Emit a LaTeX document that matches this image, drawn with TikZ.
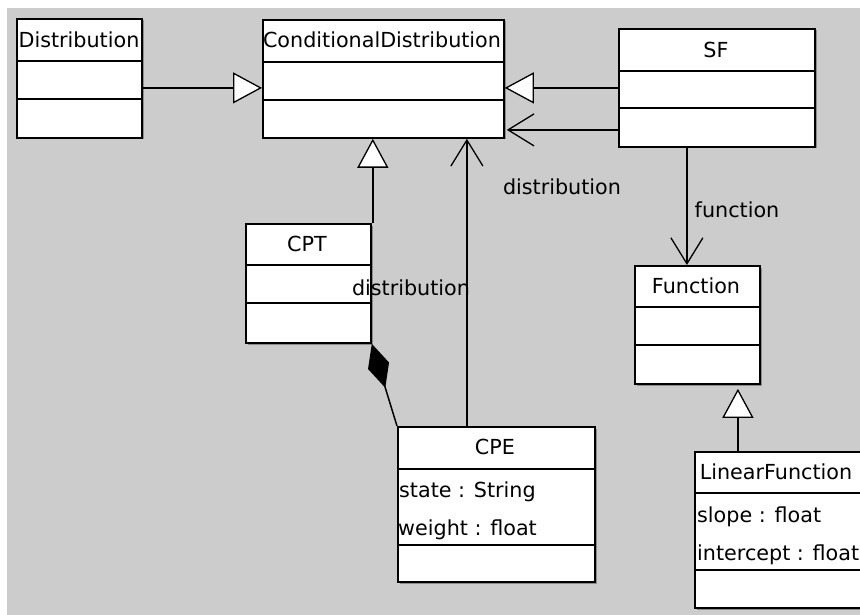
\documentclass[tikz,border=0pt]{standalone}
\usepackage{fontspec}
\setmainfont{DejaVu Sans}
\usetikzlibrary{arrows.meta,shadows}

\tikzset{
  classbox/.style={draw=black, fill=white, line width=1.8pt, inner sep=0pt,
    anchor=north west,
    drop shadow={shadow xshift=1.6pt, shadow yshift=-1.6pt, fill=black!45, opacity=1}},
  divider/.style={line width=1.6pt},
  title/.style={inner sep=0pt, font=\fontsize{20.7}{24}\selectfont},
  attr/.style={inner sep=0pt, anchor=west, font=\fontsize{20.7}{24}\selectfont},
  lbl/.style={inner sep=0pt, font=\fontsize{20.7}{24}\selectfont},
  gen/.style={line width=1.7pt, -{Triangle[length=29pt,width=31pt,fill=white,line width=1.3pt]}},
  assoc/.style={line width=1.7pt, -{Straight Barb[length=26pt,width=32pt,line width=1.3pt]}},
  comp/.style={line width=1.5pt, {Diamond[length=46pt,width=22pt]}-},
}

% one class: name, x1, y1, width, height, first divider y, second divider y
\newcommand{\umlclass}[7]{%
  \node[classbox, minimum width=#4pt, minimum height=#5pt] (#1) at (#2,#3) {};
  \draw[divider] (#1.west |- 0,#6) -- (#1.east |- 0,#6);
  \draw[divider] (#1.west |- 0,#7) -- (#1.east |- 0,#7);
}

\begin{document}
\begin{tikzpicture}[x=1pt, y=-1pt]
  \useasboundingbox (0,0) rectangle (860,615);
  \fill[white] (0,0) rectangle (860,615);
  \fill[black!20] (7,8) rectangle (860,615);
  \clip (0,0) rectangle (860,615);

  % classes
  \umlclass{dist}{16}{18}{125}{119}{61}{99}
  \umlclass{cd}{262}{19}{241}{118}{62}{100}
  \umlclass{sf}{618}{28}{196}{118}{71}{108}
  \umlclass{cpt}{245}{223}{125}{119}{265}{303}
  \umlclass{cpe}{397}{426}{197}{155}{469}{545}
  \umlclass{fn}{634}{265}{125}{118}{307}{345}
  \umlclass{lf}{694}{451}{172}{156}{493}{570}

  % class names
  \node[title] (tdist) at (79,40) {Distribution};
  \node[title] (tcd) at (382,40) {ConditionalDistribution};
  \node[title] (tsf) at (716,50) {SF};
  \node[title] (tcpt) at (307,244) {CPT};
  \node[title] (tcpe) at (495,447) {CPE};
  \node[title] (tfn) at (696,286) {Function};
  \node[title] (tlf) at (776,472) {LinearFunction};

  % attributes
  \node[attr] (a1) at (399,492) {state : String};
  \node[attr] (a2) at (398,530) {weight : float};
  \node[attr] (a3) at (697,517) {slope : float};
  \node[attr] (a4) at (697,555) {intercept : float};

  % generalizations
  \draw[gen] ([yshift=-9.5pt]dist.east) -- ([yshift=-9.5pt]dist.east -| cd.west);
  \draw[gen] (sf.west) -- (sf.west -| cd.east);
  \draw[gen] ([xshift=1pt]cpt.north east) -- ([xshift=1pt]cpt.north east |- cd.south);
  \draw[gen] ([xshift=-43pt]lf.north) -- ([xshift=-43pt,yshift=-4pt]lf.north |- fn.south);

  % associations
  \draw[assoc] ([yshift=-42pt]sf.west) -- ([yshift=-42pt,xshift=2pt]sf.west -| cd.east);
  \draw[assoc] ([xshift=-29.5pt]cpe.north) -- ([xshift=-29.5pt]cpe.north |- cd.south);
  \draw[assoc] ([xshift=-30pt]sf.south) -- ([xshift=-30pt]sf.south |- fn.north);

  % composition
  \draw[comp] (cpt.south east) -- (cpe.north west);

  % role names
  \node[lbl] (r1) at (562,187) {distribution};
  \node[lbl] (r2) at (737,210) {function};
  \node[lbl] (r3) at (411,288) {distribution};
\end{tikzpicture}
\end{document}
